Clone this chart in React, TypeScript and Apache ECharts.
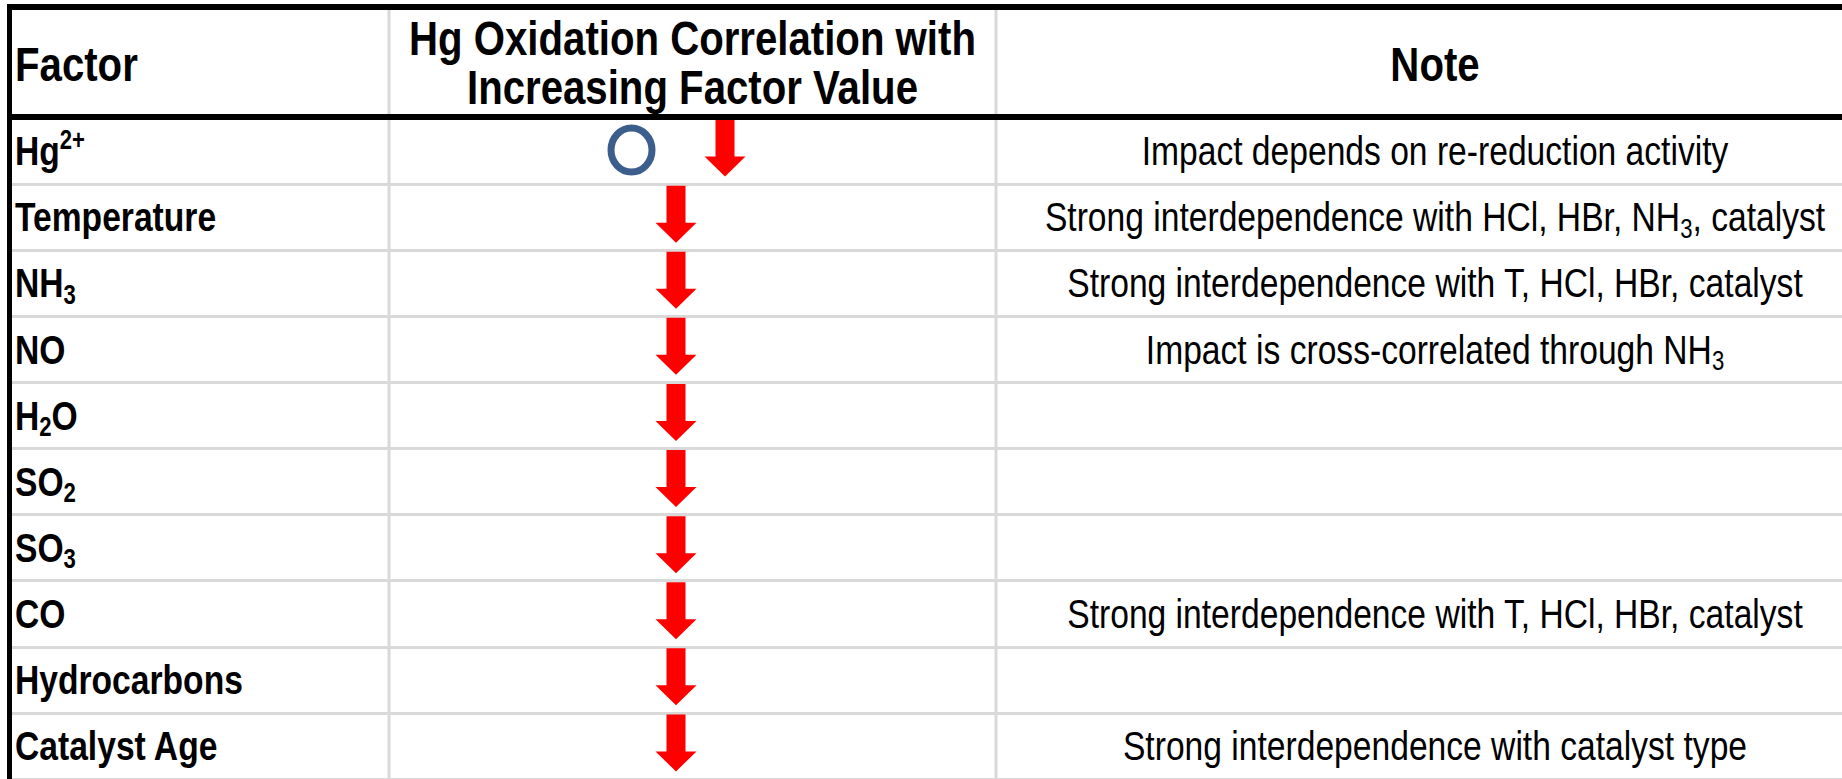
import React, { useEffect, useRef } from 'react';
import * as echarts from 'echarts';

// ---------------- data ----------------
const headerLabels = ['Factor', 'Hg Oxidation Correlation with\nIncreasing Factor Value', 'Note'];
// "_x" = subscript character, "^{..}" = superscript
const factors = ['Hg^{2+}', 'Temperature', 'NH_3', 'NO', 'H_2O', 'SO_2', 'SO_3', 'CO', 'Hydrocarbons', 'Catalyst Age'];
const correlations = ['mixed', 'decrease', 'decrease', 'decrease', 'decrease', 'decrease', 'decrease', 'decrease', 'decrease', 'decrease'];
const notes = [
  'Impact depends on re-reduction activity',
  'Strong interdependence with HCl, HBr, NH_3, catalyst',
  'Strong interdependence with T, HCl, HBr, catalyst',
  'Impact is cross-correlated through NH_3',
  '',
  '',
  '',
  'Strong interdependence with T, HCl, HBr, catalyst',
  '',
  'Strong interdependence with catalyst type',
];

// ---------------- layout / style ----------------
const W = 1842;
const H = 779;
const FONT = "'Liberation Sans', Arial, sans-serif";
const NARROW = 0.82;
const COL_EDGES = [9.5, 389, 996, 1874];
const ROW_TOP = 118;
const ROW_H = 66.2;
const BODY_SIZE = 41;
const HEAD_SIZE = 49;
const SCRIPT_SIZE = 27;
const LINE_H = 50;
const GRID_LINE = '#D9D9D9';
const ARROW_RED = '#FF0000';
const RING_BLUE = '#3B5E8C';

function toRich(s: string): string {
  return s.replace(/\^\{([^}]*)\}/g, '{sup|$1}').replace(/_(\w)/g, '{sub|$1}');
}

function richFor(weight: string) {
  return {
    sup: { fontFamily: FONT, fontWeight: weight, fontSize: SCRIPT_SIZE, fill: '#000', verticalAlign: 'top', lineHeight: LINE_H },
    sub: { fontFamily: FONT, fontWeight: weight, fontSize: SCRIPT_SIZE, fill: '#000', verticalAlign: 'bottom', lineHeight: LINE_H },
  };
}

const arrowPoints = [
  [-9.5, -31.5], [9.5, -31.5], [9.5, 5.5], [20.5, 5.5], [0, 25.5], [-20.5, 5.5], [-9.5, 5.5],
];

function arrowAt(cx: number, cy: number) {
  return {
    type: 'polygon',
    shape: { points: arrowPoints.map(([px, py]) => [cx + px, cy + py]) },
    style: { fill: ARROW_RED },
  };
}

function buildOption() {
  const rowIdx = factors.map((_, i) => [0, i]);
  const col2Center = (COL_EDGES[1] + COL_EDGES[2]) / 2;
  const col3Center = (COL_EDGES[2] + COL_EDGES[3]) / 2;

  const graphic: any[] = [
    // column dividers
    { type: 'rect', z: 5, shape: { x: COL_EDGES[1] - 1.5, y: 8, width: 3, height: H }, style: { fill: GRID_LINE } },
    { type: 'rect', z: 5, shape: { x: COL_EDGES[2] - 1.5, y: 8, width: 3, height: H }, style: { fill: GRID_LINE } },
    // outer borders
    { type: 'rect', z: 10, shape: { x: 7, y: 4, width: W, height: 6 }, style: { fill: '#000' } },
    { type: 'rect', z: 10, shape: { x: 7, y: 4, width: 5, height: H }, style: { fill: '#000' } },
    { type: 'rect', z: 10, shape: { x: 7, y: 114, width: W, height: 6 }, style: { fill: '#000' } },
    // header texts
    {
      type: 'text', z: 10, x: 15, y: 64, scaleX: NARROW,
      style: { text: headerLabels[0], fontFamily: FONT, fontWeight: 'bold', fontSize: HEAD_SIZE, fill: '#000', align: 'left', verticalAlign: 'middle' },
    },
    {
      type: 'text', z: 10, x: col2Center, y: 62, scaleX: NARROW,
      style: { text: headerLabels[1], fontFamily: FONT, fontWeight: 'bold', fontSize: HEAD_SIZE, lineHeight: 49, fill: '#000', align: 'center', verticalAlign: 'middle' },
    },
    {
      type: 'text', z: 10, x: col3Center, y: 64, scaleX: NARROW,
      style: { text: headerLabels[2], fontFamily: FONT, fontWeight: 'bold', fontSize: HEAD_SIZE, fill: '#000', align: 'center', verticalAlign: 'middle' },
    },
  ];

  return {
    animation: false,
    backgroundColor: '#fff',
    graphic,
    grid: {
      left: COL_EDGES[0],
      top: ROW_TOP,
      width: COL_EDGES[3] - COL_EDGES[0],
      height: ROW_H * factors.length,
      containLabel: false,
    },
    xAxis: { type: 'value', min: 0, max: 1, show: false },
    yAxis: {
      type: 'category',
      data: factors,
      inverse: true,
      boundaryGap: true,
      axisLine: { show: false },
      axisTick: { show: false, interval: 0 },
      axisLabel: { show: false, interval: 0 },
      splitLine: { show: true, interval: 0, lineStyle: { color: GRID_LINE, width: 3 } },
    },
    series: [
      {
        type: 'custom',
        name: 'factor',
        silent: true,
        clip: false,
        encode: { x: 0, y: 1 },
        data: rowIdx,
        renderItem: (params: any, api: any) => {
          const i = params.dataIndex;
          const pt = api.coord([0, i]);
          const cs = params.coordSys;
          return {
            type: 'text',
            x: cs.x + 5.5,
            y: pt[1],
            scaleX: NARROW,
            style: {
              text: toRich(factors[i]),
              fontFamily: FONT, fontWeight: 'bold', fontSize: BODY_SIZE, lineHeight: LINE_H,
              fill: '#000', align: 'left', verticalAlign: 'middle',
              rich: richFor('bold'),
            },
          };
        },
      },
      {
        type: 'custom',
        name: 'correlation',
        silent: true,
        clip: false,
        encode: { x: 0, y: 1 },
        data: rowIdx,
        renderItem: (params: any, api: any) => {
          const i = params.dataIndex;
          const pt = api.coord([0, i]);
          const y = pt[1];
          const kind = correlations[i];
          const children: any[] = [];
          if (kind === 'mixed') {
            children.push({
              type: 'ellipse',
              shape: { cx: col2Center - 61, cy: y - 1, rx: 20.5, ry: 22 },
              style: { fill: 'none', stroke: RING_BLUE, lineWidth: 7 },
            });
            children.push(arrowAt(col2Center + 32.5, y));
          } else if (kind === 'decrease') {
            children.push(arrowAt(col2Center - 16.5, y));
          }
          return { type: 'group', children };
        },
      },
      {
        type: 'custom',
        name: 'note',
        silent: true,
        clip: false,
        encode: { x: 0, y: 1 },
        data: rowIdx,
        renderItem: (params: any, api: any) => {
          const i = params.dataIndex;
          const pt = api.coord([0, i]);
          return {
            type: 'text',
            x: col3Center,
            y: pt[1],
            scaleX: NARROW,
            style: {
              text: toRich(notes[i]),
              fontFamily: FONT, fontWeight: 'normal', fontSize: BODY_SIZE, lineHeight: LINE_H,
              fill: '#000', align: 'center', verticalAlign: 'middle',
              rich: richFor('normal'),
            },
          };
        },
      },
    ],
  };
}

export default function App() {
  const ref = useRef<HTMLDivElement>(null);
  useEffect(() => {
    if (!ref.current) return;
    const chart = echarts.init(ref.current, null, { renderer: 'svg' });
    chart.setOption(buildOption() as any);
    return () => chart.dispose();
  }, []);
  return (
    <div
      ref={ref}
      style={{ position: 'absolute', left: 0, top: 0, width: W, height: H, background: '#fff' }}
    />
  );
}
